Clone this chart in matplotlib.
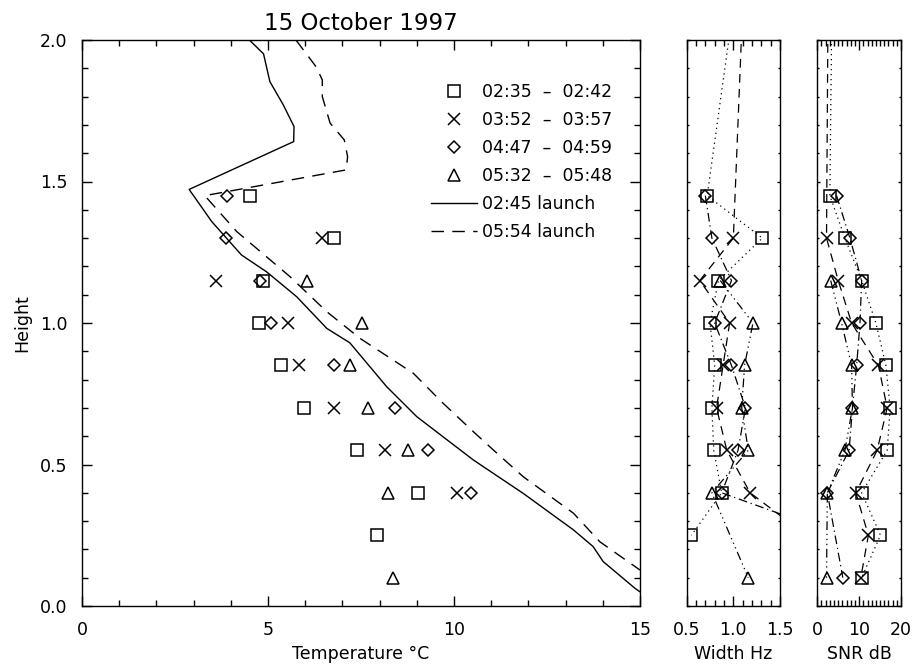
import numpy as np
import matplotlib
matplotlib.use('Agg')
from matplotlib import pyplot as plt
from matplotlib.lines import Line2D
from matplotlib.ticker import MultipleLocator, FormatStrFormatter

plt.rcParams.update({'font.family': 'DejaVu Sans', 'font.size': 12.5,
                     'axes.linewidth': 1.0})

nan = np.nan

# heights of the scan gates (2.20 = gate above the plotted range)
heights = np.array([2.20, 1.45, 1.30, 1.15, 1.00, 0.85, 0.70, 0.55, 0.40, 0.25, 0.10])

labels = ['02:35  –  02:42', '03:52  –  03:57', '04:47  –  04:59', '05:32  –  05:48']
markers = ['s', 'x', 'D', '^']
msizes = [8.5, 8.5, 5.8, 9.0]
lstyles = [(0, (1, 3)), (0, (7, 5)), (0, (7, 3, 1, 3)), (0, (7, 3, 1, 3, 1, 3, 1, 3))]

# temperature (deg C) per scan
temp_a = [nan, 4.52, 6.77, 4.86, 4.77, 5.34, 5.98, 7.40, 9.04, 7.92, nan]
temp_b = [nan, nan, 6.45, 3.60, 5.55, 5.83, 6.78, 8.15, 10.09, nan, nan]
temp_c = [nan, 3.89, 3.86, 4.78, 5.07, 6.77, 8.41, 9.31, 10.46, nan, nan]
temp_d = [nan, nan, nan, 6.04, 7.54, 7.20, 7.70, 8.77, 8.23, nan, 8.37]

# spectral width (Hz)
width_a = [1.035, 0.72, 1.31, 0.84, 0.75, 0.80, 0.77, 0.79, 0.875, 0.55, nan]
width_b = [1.11, nan, 1.00, 0.64, 0.96, 0.89, 0.82, 0.93, 1.18, 1.78, 1.90]
width_c = [nan, 0.70, 0.77, 0.98, 0.80, 0.98, 1.13, 1.05, 0.875, nan, 3.40]
width_d = [nan, nan, nan, 0.86, 1.21, 1.12, 1.09, 1.16, 0.77, nan, 1.16]

# signal to noise ratio (dB)
snr_a = [3.55, 3.0, 6.6, 10.6, 14.0, 16.4, 17.4, 16.7, 10.6, 15.1, 10.6]
snr_b = [2.6, nan, 2.2, 5.0, 8.2, 14.6, 16.7, 14.3, 9.2, 12.2, 10.4]
snr_c = [nan, 4.6, 7.8, 10.6, 10.2, 9.4, 8.4, 7.6, 2.4, nan, 6.1]
snr_d = [nan, nan, nan, 3.2, 5.8, 8.2, 8.4, 6.6, 2.4, nan, 2.2]

# radiosonde profiles
sonde1_T = [4.50, 4.88, 5.05, 5.41, 5.70, 5.69, 2.88, 3.49, 4.29, 4.96, 5.77, 6.58,
            7.20, 8.19, 9.00, 10.52, 11.86, 13.21, 13.74, 14.01, 14.87, 15.0]
sonde1_h = [2.00, 1.951, 1.853, 1.771, 1.694, 1.641, 1.472, 1.358, 1.240, 1.181, 1.093, 0.981,
            0.930, 0.775, 0.669, 0.516, 0.398, 0.269, 0.210, 0.157, 0.062, 0.05]
sonde2_T = [5.75, 6.29, 6.46, 6.46, 6.67, 7.05, 7.14, 7.10, 3.30, 4.16, 5.59, 6.58,
            7.47, 8.91, 9.71, 10.52, 11.06, 11.86, 13.21, 13.92, 15.0]
sonde2_h = [2.00, 1.906, 1.859, 1.80, 1.706, 1.647, 1.588, 1.541, 1.450, 1.323, 1.164, 1.040,
            0.946, 0.822, 0.716, 0.616, 0.551, 0.457, 0.328, 0.227, 0.127]
sonde_labels = ['02:45 launch', '05:54 launch']

temps = [temp_a, temp_b, temp_c, temp_d]
widths = [width_a, width_b, width_c, width_d]
snrs = [snr_a, snr_b, snr_c, snr_d]

W, H = 916., 664.
fig = plt.figure(figsize=(W / 100, H / 100), dpi=100)
bot, hgt = 58 / H, 566 / H
ax = fig.add_axes([82 / W, bot, 558 / W, hgt])
axw = fig.add_axes([686.7 / W, bot, 93.3 / W, hgt])
axs = fig.add_axes([817.3 / W, bot, 83.7 / W, hgt])

mk = dict(mfc='none', mec='k', mew=1.1, color='k')

# temperature panel
for i in range(4):
    t = np.array(temps[i])
    ok = np.isfinite(t)
    ax.plot(t[ok], heights[ok], ls='none', marker=markers[i], ms=msizes[i], **mk)
ax.plot(sonde1_T, sonde1_h, color='k', lw=1.0)
ax.plot(sonde2_T, sonde2_h, color='k', lw=1.0, dashes=(9, 6))

# width and snr panels
for a, data in ((axw, widths), (axs, snrs)):
    for i in range(4):
        v = np.array(data[i])
        ok = np.isfinite(v)
        a.plot(v[ok], heights[ok], ls=lstyles[i], lw=0.9, marker=markers[i],
               ms=msizes[i], **mk)

ax.set_xlim(0, 15)
axw.set_xlim(0.5, 1.5)
axs.set_xlim(0, 20)
for a in (ax, axw, axs):
    a.set_ylim(0, 2.0)
    a.yaxis.set_major_locator(MultipleLocator(0.5))
    a.yaxis.set_minor_locator(MultipleLocator(0.1))
    a.yaxis.set_major_formatter(FormatStrFormatter('%.1f'))
    a.tick_params(which='both', direction='in', top=True, right=True, width=1.0)
    a.tick_params(axis='x', which='major', length=7.5, pad=11)
    a.tick_params(axis='x', which='minor', length=4)

ax.xaxis.set_major_locator(MultipleLocator(5))
ax.xaxis.set_minor_locator(MultipleLocator(1))
ax.xaxis.set_major_formatter(FormatStrFormatter('%d'))
ax.tick_params(axis='y', which='major', length=7.5, pad=10.5)
ax.tick_params(axis='y', which='minor', length=4)

axw.xaxis.set_major_locator(MultipleLocator(0.5))
axw.xaxis.set_minor_locator(MultipleLocator(0.1))
axw.xaxis.set_major_formatter(FormatStrFormatter('%.1f'))
axs.xaxis.set_major_locator(MultipleLocator(10))
axs.xaxis.set_minor_locator(MultipleLocator(1))
axs.xaxis.set_major_formatter(FormatStrFormatter('%d'))
for a in (axw, axs):
    a.tick_params(axis='y', which='major', length=2, labelleft=False)
    a.tick_params(axis='y', which='minor', length=1.2)

ax.set_xlabel('Temperature °C', labelpad=4)
ax.set_ylabel('Height', labelpad=6)
axw.set_xlabel('Width Hz', labelpad=4)
axs.set_xlabel('SNR dB', labelpad=4)
ax.set_title('15 October 1997', fontsize=16.5, pad=7)

handles = [Line2D([], [], ls='none', marker=markers[i], ms=msizes[i], **mk) for i in range(4)]
handles.append(Line2D([], [], color='k', lw=1.0))
handles.append(Line2D([], [], color='k', lw=1.0, dashes=(9, 6)))
ax.legend(handles, labels + sonde_labels, loc='upper left',
          bbox_to_anchor=((431 - 82) / 558, (606 - 83) / 566), frameon=False,
          borderpad=0, borderaxespad=0, handlelength=2.65, handletextpad=0.3,
          labelspacing=0.58, numpoints=1)

fig.savefig('out.png', dpi=100)
